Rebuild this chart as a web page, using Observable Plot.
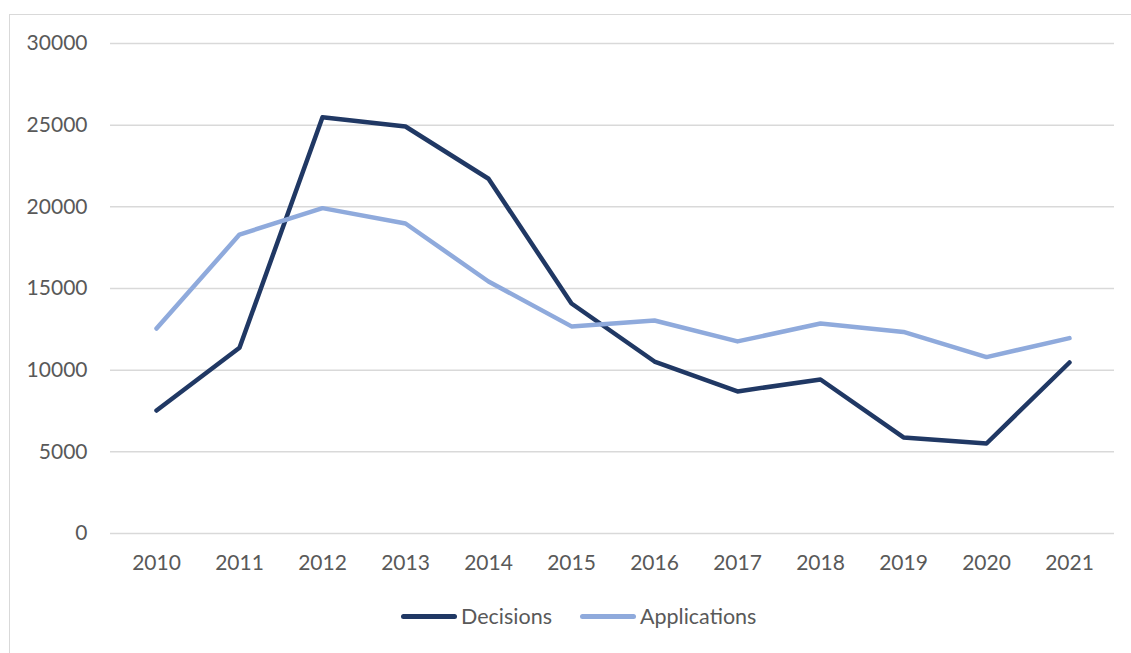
<!DOCTYPE html>
<html>
<head>
<meta charset="utf-8">
<script src="https://cdn.jsdelivr.net/npm/d3@7"></script>
<script src="https://cdn.jsdelivr.net/npm/@observablehq/plot@0.6"></script>
<style>
  html, body { margin: 0; padding: 0; background: #fff; }
  #wrap { position: relative; width: 1131px; height: 653px; overflow: hidden; font-family: Lato, "Open Sans", sans-serif; }
  #frame { position: absolute; left: 9px; top: 14px; width: 1200px; height: 800px; border-left: 1.5px solid #d9d9d9; border-top: 1.5px solid #d9d9d9; box-sizing: border-box; pointer-events: none; }
  #chart { position: absolute; left: 0; top: 0; }
  #legend { position: absolute; left: 0; top: 590px; width: 1131px; height: 63px; }
  .item { position: absolute; top: 13px; display: flex; align-items: center; font-size: 21.5px; color: #595959; }
  .swatch { display: inline-block; width: 56px; height: 5px; border-radius: 3px; margin-right: 4px; }
</style>
</head>
<body>
<div id="wrap">
  <div id="frame"></div>
  <div id="chart"></div>
  <div id="legend">
    <div class="item" style="left:401px"><span class="swatch" style="background:#203864"></span>Decisions</div>
    <div class="item" style="left:580px"><span class="swatch" style="background:#8faadc"></span>Applications</div>
  </div>
</div>
<script>
const years = ["2010","2011","2012","2013","2014","2015","2016","2017","2018","2019","2020","2021"];
const decisions = [7530, 11370, 25480, 24920, 21720, 14080, 10530, 8700, 9430, 5880, 5510, 10470];
const applications = [12550, 18300, 19920, 18980, 15430, 12680, 13040, 11760, 12860, 12340, 10800, 11960];
const yTicks = [0, 5000, 10000, 15000, 20000, 25000, 30000];

const data = [];
years.forEach((y, i) => data.push({year: y, value: decisions[i], series: "Decisions"}));
years.forEach((y, i) => data.push({year: y, value: applications[i], series: "Applications"}));

const plot = Plot.plot({
  width: 1131,
  height: 590,
  marginLeft: 110,
  marginRight: 17,
  marginTop: 43,
  marginBottom: 57,
  style: { fontFamily: "Lato, 'Open Sans', sans-serif", fontSize: "21px", color: "#595959", background: "transparent" },
  x: { type: "point", domain: years, padding: 0.5, label: null },
  y: { domain: [0, 30000], label: null },
  color: { domain: ["Decisions", "Applications"], range: ["#203864", "#8faadc"] },
  marks: [
    Plot.ruleY(yTicks, { stroke: "#d9d9d9", strokeWidth: 1.5 }),
    Plot.axisY({ ticks: yTicks, tickSize: 0, tickPadding: 23, tickFormat: d => String(d), label: null, fill: "#595959" }),
    Plot.axisX({ tickSize: 0, tickPadding: 22, label: null, fill: "#595959" }),
    Plot.line(data, { x: "year", y: "value", z: "series", stroke: "series", strokeWidth: 4.5, strokeLinejoin: "round", strokeLinecap: "round" })
  ]
});
document.getElementById("chart").appendChild(plot);
</script>
</body>
</html>
